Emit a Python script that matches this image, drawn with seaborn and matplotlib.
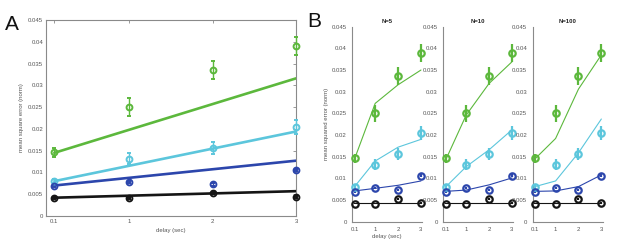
import numpy as np
import pandas as pd
import matplotlib
matplotlib.use("Agg")
import matplotlib.pyplot as plt
import seaborn as sns

# delays (sec) and condition colours
delays = [0.1, 1, 2, 3]
groups = ["g", "c", "b", "k"]
colors = {"g": "#5cb83c", "c": "#5cc6dc", "b": "#2c46ac", "k": "#151515"}

# measured mean squared error (markers) and error bars
mse = {
    "g": [0.0146, 0.0250, 0.0336, 0.0390],
    "c": [0.0081, 0.0132, 0.0157, 0.0205],
    "b": [0.0069, 0.0078, 0.0073, 0.0106],
    "k": [0.0042, 0.0042, 0.0053, 0.0044],
}
err = {
    "g": [0.0011, 0.0020, 0.0021, 0.0021],
    "c": [0.0005, 0.0012, 0.0014, 0.0016],
    "b": [0.0003, 0.0003, 0.0003, 0.0003],
    "k": [0.0002, 0.0002, 0.0002, 0.0002],
}

# panel A linear fits (value at 0.1 and 3)
fit_x = [0.1, 3]
fit_a = {
    "g": [0.0145, 0.0316],
    "c": [0.0080, 0.0194],
    "b": [0.0070, 0.0127],
    "k": [0.0042, 0.0057],
}

# panel B model predictions
model_titles = ["N=5", "N=10", "N=100"]
model_b = {
    "N=5": {
        "g": [0.0145, 0.0273, 0.0316, 0.0350],
        "c": [0.0081, 0.0140, 0.0172, 0.0190],
        "b": [0.0071, 0.0077, 0.0084, 0.0094],
        "k": [0.0043, 0.0043, 0.0043, 0.0043],
    },
    "N=10": {
        "g": [0.0142, 0.0246, 0.0319, 0.0369],
        "c": [0.0080, 0.0127, 0.0166, 0.0212],
        "b": [0.0070, 0.0073, 0.0085, 0.0101],
        "k": [0.0043, 0.0043, 0.0043, 0.0043],
    },
    "N=100": {
        "g": [0.0145, 0.0192, 0.0306, 0.0385],
        "c": [0.0081, 0.0094, 0.0159, 0.0237],
        "b": [0.0070, 0.0071, 0.0081, 0.0108],
        "k": [0.0043, 0.0043, 0.0043, 0.0043],
    },
}

yticks = [0, 0.005, 0.01, 0.015, 0.02, 0.025, 0.03, 0.035, 0.04, 0.045]
ytick_labels = ["0", "0.005", "0.01", "0.015", "0.02", "0.025", "0.03", "0.035", "0.04", "0.045"]
xtick_labels = ["0.1", "1", "2", "3"]

sns.set_style("white")
plt.rcParams["font.family"] = ["Liberation Sans", "DejaVu Sans"]

fig = plt.figure(figsize=(6.17, 2.42), dpi=100)
grey = "#8a8a8a"


def style_axis(ax, boxed):
    ax.set_ylim(0, 0.045)
    ax.set_yticks(yticks)
    ax.set_yticklabels(ytick_labels)
    ax.set_xticks(delays)
    ax.set_xticklabels(xtick_labels)
    for side, sp in ax.spines.items():
        sp.set_color(grey)
        sp.set_linewidth(0.8)
        if not boxed and side in ("top", "right"):
            sp.set_visible(False)
    ax.tick_params(labelsize=4.3, colors=grey, labelcolor="#555555",
                   direction="in" if boxed else "out", length=2, width=0.6, pad=2,
                   top=boxed, right=boxed)
    ax.set_xlabel("")
    ax.set_ylabel("")


def draw_points(ax, capsize, elw, ms, mew):
    for g in groups:
        ax.errorbar(delays, mse[g], yerr=err[g], fmt="o", mfc="none", mec=colors[g],
                    ecolor=colors[g], mew=mew, ms=ms, elinewidth=elw, capsize=capsize,
                    capthick=1.0, clip_on=False, zorder=4)


# ---- panel A ----
axA = fig.add_axes([46 / 617, 26 / 242, 250 / 617, 196 / 242])
fitA = pd.DataFrame([(x, v, g) for g in groups for x, v in zip(fit_x, fit_a[g])],
                    columns=["delay", "mse", "group"])
sns.lineplot(data=fitA, x="delay", y="mse", hue="group", palette=colors, lw=1.9,
             legend=False, ax=axA, zorder=3)
draw_points(axA, capsize=1.6, elw=1.0, ms=4.2, mew=1.4)
axA.set_xlim(0, 3)
style_axis(axA, boxed=True)
axA.set_xlabel("delay (sec)", fontsize=4.3, color="#555555", labelpad=3)
axA.set_ylabel("mean square error (norm)", fontsize=4.3, color="#555555", labelpad=3)

# ---- panel B ----
b_lefts = [352.3, 443.3, 532.7]
for i, (title, left) in enumerate(zip(model_titles, b_lefts)):
    ax = fig.add_axes([left / 617, 20.3 / 242, 69.8 / 617, 195 / 242])
    dfB = pd.DataFrame([(x, v, g) for g in groups for x, v in zip(delays, model_b[title][g])],
                       columns=["delay", "mse", "group"])
    sns.lineplot(data=dfB, x="delay", y="mse", hue="group", palette=colors, lw=0.8,
                 legend=False, ax=ax, zorder=3)
    draw_points(ax, capsize=0, elw=1.6, ms=4.6, mew=1.6)
    ax.set_xlim(0, 3.05)
    style_axis(ax, boxed=False)
    ax.set_title(title, fontsize=4.3, fontweight="bold", color="#222222", pad=3)
    if i == 0:
        ax.set_xlabel("delay (sec)", fontsize=4.3, color="#555555", labelpad=1.5)
        ax.set_ylabel("mean squared error (norm)", fontsize=4.3, color="#555555", labelpad=2)

fig.text(5 / 617, 1 - 30 / 242, "A", fontsize=15, color="#111111")
fig.text(307 / 617, 1 - 27 / 242, "B", fontsize=15, color="#111111")

fig.savefig("out.png", dpi=100)
